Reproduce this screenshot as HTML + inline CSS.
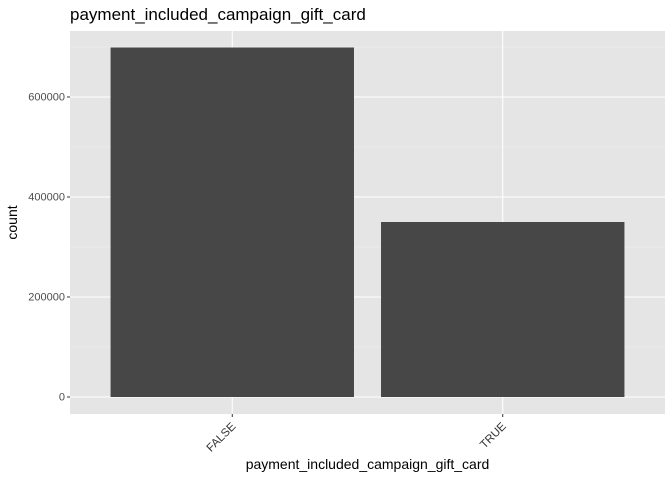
<!DOCTYPE html>
<html><head><meta charset="utf-8"><style>
body{margin:0;background:#fff;font-family:"Liberation Sans",sans-serif}
</style></head><body>
<svg id="c" width="672" height="480" xmlns="http://www.w3.org/2000/svg"></svg>
<script>
const categories=["FALSE","TRUE"];
const counts=[699000,350000];
const yTicks=[0,200000,400000,600000];
const yMinor=[100000,300000,500000,700000];
const svg=document.getElementById('c');
const NS='http://www.w3.org/2000/svg';
const L=70,R=665,T=31,B=414;
const y0=397,pxPer=0.0005;
const Y=v=>y0-v*pxPer;
const step=(R-L)/(categories.length-1+1.2);
const X=i=>L+0.6*step+i*step;
function mk(tag,attrs,parent){const e=document.createElementNS(NS,tag);for(const k in attrs)e.setAttribute(k,attrs[k]);(parent||svg).appendChild(e);return e;}
const panel=mk('rect',{x:L,y:T,width:R-L,height:B-T,fill:'#e5e5e5'});


yMinor.forEach(v=>{if(Y(v)>T){const l=mk('line',{x1:L,x2:R,y1:Y(v),y2:Y(v),stroke:'#f2f2f2','stroke-width':0.6});

}});
yTicks.forEach(v=>{const l=mk('line',{x1:L,x2:R,y1:Y(v),y2:Y(v),stroke:'#fff','stroke-width':1.1});


const t=mk('line',{x1:L-3,x2:L,y1:Y(v),y2:Y(v),stroke:'#333','stroke-width':1});


const tx=mk('text',{x:L-5,y:Y(v)+3.5,'text-anchor':'end','font-size':'11',fill:'#4d4d4d'});
tx.textContent=v;

});
categories.forEach((c,i)=>{const x=X(i);
const g=mk('line',{x1:x,x2:x,y1:T,y2:B,stroke:'#fff','stroke-width':1.1});


const w=0.9*step;
const b=mk('rect',{x:x-w/2,y:Y(counts[i]),width:w,height:Y(0)-Y(counts[i]),fill:'#474747'});


const t=mk('line',{x1:x,x2:x,y1:B,y2:B+3,stroke:'#333','stroke-width':1});


const ax=x+4,ay=B+13;
const tx=mk('text',{x:ax,y:ay,'text-anchor':'end','font-size':'11.5',fill:'#333',transform:`rotate(-45 ${ax} ${ay})`});
tx.textContent=c;

});
const xt=mk('text',{x:(L+R)/2,y:469,'text-anchor':'middle','font-size':'14',fill:'#000'});
xt.textContent='payment_included_campaign_gift_card';


const yt=mk('text',{x:17,y:(T+B)/2,'text-anchor':'middle','font-size':'14',fill:'#000',transform:`rotate(-90 17 ${(T+B)/2})`});
yt.textContent='count';


const tt=mk('text',{x:70,y:20,'font-size':'17',fill:'#000'});
tt.textContent='payment_included_campaign_gift_card';


</script>
</body></html>
